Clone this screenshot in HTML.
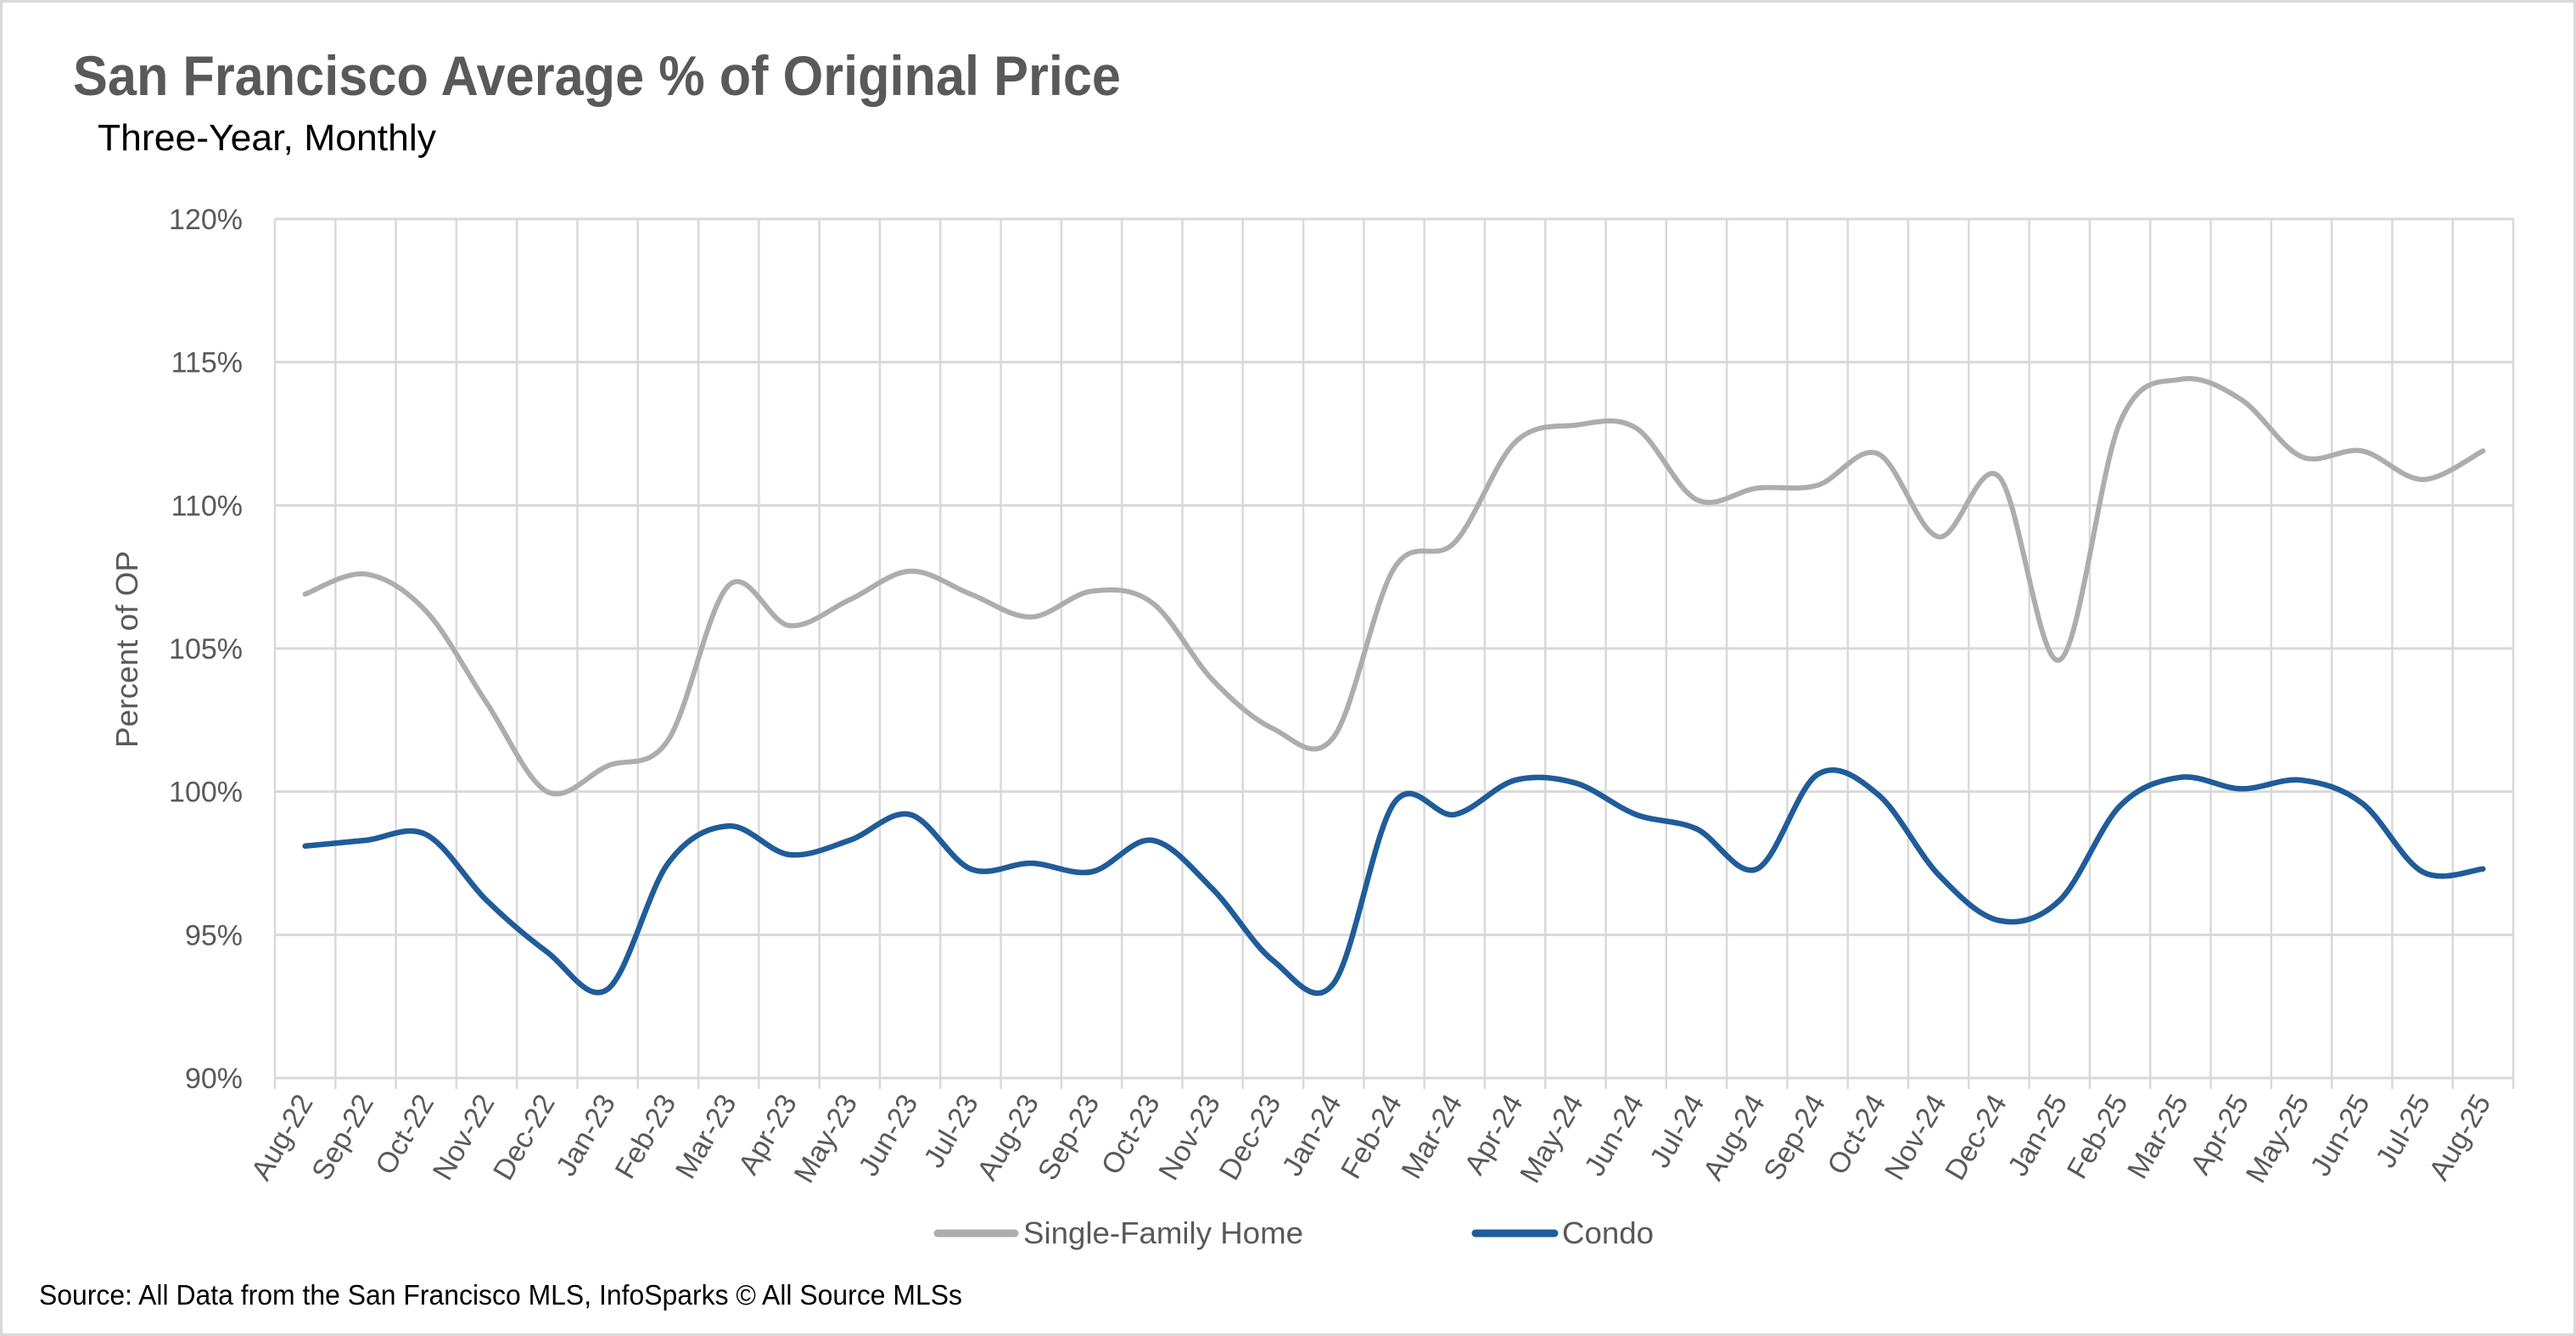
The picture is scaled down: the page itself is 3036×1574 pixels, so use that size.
<!DOCTYPE html>
<html><head><meta charset="utf-8"><style>
html,body{margin:0;padding:0;background:#fff}
svg{display:block}
text{font-family:"Liberation Sans Narrow","Liberation Sans",sans-serif}
</style></head><body>
<svg id="c" width="3036" height="1574" viewBox="0 0 3036 1574" xmlns="http://www.w3.org/2000/svg">
<rect x="1.5" y="1.5" width="3033" height="1571" fill="#fff" stroke="#d9d9d9" stroke-width="3"/>
<text x="86" y="112" font-size="66" font-weight="bold" fill="#595959" textLength="1235" lengthAdjust="spacingAndGlyphs">San Francisco Average % of Original Price</text>
<text x="115" y="177" font-size="44" fill="#000" textLength="399" lengthAdjust="spacingAndGlyphs">Three-Year, Monthly</text>
<g id="grid"></g>
<g id="lines"></g>
<text transform="translate(162,765) rotate(-90)" text-anchor="middle" font-size="36" fill="#595959" textLength="232" lengthAdjust="spacingAndGlyphs">Percent of OP</text>
<line x1="1105" y1="1453" x2="1196" y2="1453" stroke="#adadad" stroke-width="9" stroke-linecap="round"/>
<text x="1206" y="1465" font-size="36" fill="#595959" textLength="330" lengthAdjust="spacingAndGlyphs">Single-Family Home</text>
<line x1="1739" y1="1453" x2="1832" y2="1453" stroke="#1f5c99" stroke-width="9" stroke-linecap="round"/>
<text x="1841" y="1465" font-size="36" fill="#595959" textLength="108" lengthAdjust="spacingAndGlyphs">Condo</text>
<text x="46" y="1537" font-size="33" fill="#000" textLength="1088" lengthAdjust="spacingAndGlyphs">Source: All Data from the San Francisco MLS, InfoSparks © All Source MLSs</text>
</svg>
<script>
var NS="http://www.w3.org/2000/svg",L=324,R=2962,T=258,B=1270,n=37,w=(R-L)/n;
function Y(v){return T+(120-v)*(B-T)/30}
function X(i){return L+w*(i+0.5)}
var g=document.getElementById("grid"),s="";
for(var k=0;k<=6;k++){var y=Y(120-5*k);s+='<line x1="'+L+'" y1="'+y+'" x2="'+R+'" y2="'+y+'" stroke="#d9d9d9" stroke-width="3"/>';
s+='<text x="286" y="'+(y+12)+'" text-anchor="end" font-size="34" fill="#595959">'+(120-5*k)+'%</text>';}
for(var i=0;i<=n;i++){var x=L+w*i;s+='<line x1="'+x+'" y1="'+T+'" x2="'+x+'" y2="'+(B+13)+'" stroke="#d9d9d9" stroke-width="2.5"/>';}
var m=["Aug","Sep","Oct","Nov","Dec","Jan","Feb","Mar","Apr","May","Jun","Jul"];
for(var i=0;i<n;i++){var yr=22+Math.floor((i+7)/12);var lab=m[i%12]+"-"+yr;var x=X(i)+10;
s+='<text transform="translate('+x+',1298) rotate(-60)" text-anchor="end" font-size="34" fill="#595959">'+lab+'</text>';}
g.innerHTML=s;
var sfh=[106.9,107.6,106.3,103.1,100.0,100.9,101.8,107.2,105.8,106.7,107.7,106.9,106.1,107.0,106.6,103.9,102.2,101.9,107.8,108.7,112.2,112.8,112.7,110.2,110.6,110.7,111.8,108.9,111.0,104.6,112.9,114.4,113.7,111.7,111.9,110.9,111.9];
var con=[98.1,98.3,98.5,96.2,94.4,93.1,97.5,98.8,97.8,98.3,99.2,97.3,97.5,97.2,98.3,96.6,94.1,93.3,99.6,99.2,100.4,100.3,99.2,98.7,97.3,100.6,99.9,97.1,95.5,96.2,99.5,100.5,100.1,100.4,99.6,97.2,97.3];
function path(a){var p=a.map(function(v,i){return [X(i),Y(v)]}),d="M"+p[0][0]+","+p[0][1];
for(var i=0;i<p.length-1;i++){var p0=p[i-1]||p[i],p1=p[i],p2=p[i+1],p3=p[i+2]||p2;
d+=" C"+(p1[0]+(p2[0]-p0[0])/6)+","+(p1[1]+(p2[1]-p0[1])/6)+" "+(p2[0]-(p3[0]-p1[0])/6)+","+(p2[1]-(p3[1]-p1[1])/6)+" "+p2[0]+","+p2[1];}return d;}
document.getElementById("lines").innerHTML='<path d="'+path(sfh)+'" fill="none" stroke="#adadad" stroke-width="6" stroke-linecap="round"/><path d="'+path(con)+'" fill="none" stroke="#1f5c99" stroke-width="6.5" stroke-linecap="round"/>';
</script>
</body></html>
